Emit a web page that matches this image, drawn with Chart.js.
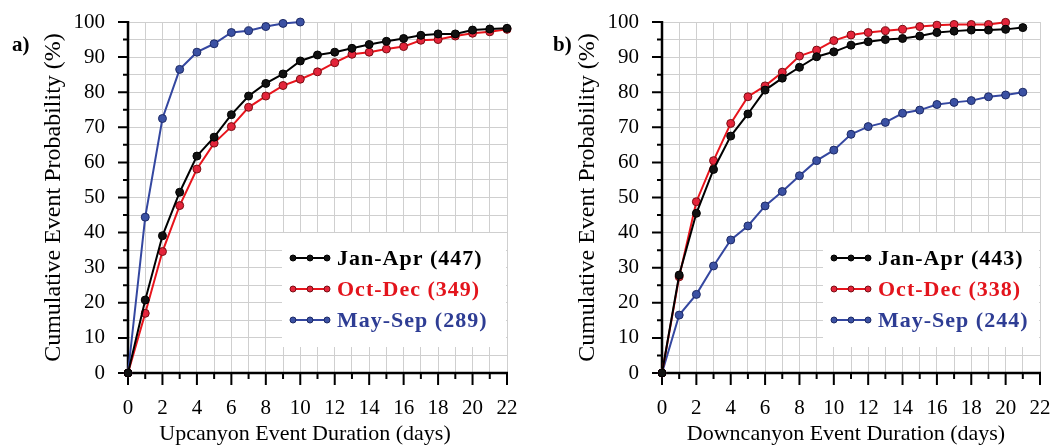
<!doctype html>
<html>
<head>
<meta charset="UTF-8">
<script src="https://cdn.jsdelivr.net/npm/chart.js"></script>
<style>
  body { margin: 0; background: #fff; }
  .panel { position: absolute; top: 0; width: 526px; height: 446px; }
</style>
</head>
<body>
<div class="panel" style="left:0"><canvas id="chartA" width="526" height="446"></canvas></div>
<div class="panel" style="left:526px"><canvas id="chartB" width="526" height="446"></canvas></div>

<script>
  // ---- data ----
  const seasons = ['Jan-Apr', 'Oct-Dec', 'May-Sep'];

  // a) upcanyon
  const daysA = [0,1,2,3,4,5,6,7,8,9,10,11,12,13,14,15,16,17,18,19,20,21,22];
  const upJanApr = [0, 20.8, 39.1, 51.5, 61.8, 67.2, 73.6, 78.9, 82.5, 85.2, 88.9, 90.6, 91.4, 92.5, 93.6, 94.5, 95.3, 96.2, 96.6, 96.6, 97.7, 98.0, 98.2];
  const upOctDec = [0, 17.0, 34.6, 47.7, 58.1, 65.5, 70.2, 75.7, 78.9, 81.9, 83.7, 85.8, 88.4, 90.8, 91.4, 92.3, 93.0, 94.8, 95.0, 96.0, 96.8, 97.2, 97.9];
  const upMaySep = [0, 44.4, 72.5, 86.5, 91.4, 93.8, 97.0, 97.5, 98.7, 99.6, 100];
  const countsA = [447, 349, 289];

  // b) downcanyon
  const daysB = [0,1,2,3,4,5,6,7,8,9,10,11,12,13,14,15,16,17,18,19,20,21];
  const downJanApr = [0, 27.9, 45.5, 58.0, 67.5, 73.8, 80.6, 84.0, 87.1, 90.1, 91.5, 93.4, 94.4, 95.0, 95.3, 96.0, 97.0, 97.4, 97.7, 97.7, 97.9, 98.4];
  const downOctDec = [0, 27.4, 48.8, 60.5, 71.1, 78.7, 81.8, 85.7, 90.3, 92.0, 94.7, 96.3, 97.0, 97.5, 97.9, 98.7, 99.1, 99.3, 99.3, 99.3, 99.9];
  const downMaySep = [0, 16.5, 22.4, 30.5, 37.9, 41.9, 47.6, 51.7, 56.2, 60.5, 63.5, 68.0, 70.2, 71.4, 74.0, 74.9, 76.5, 77.1, 77.6, 78.7, 79.2, 80.0];
  const countsB = [443, 338, 244];

  const xTicksMax = 22;
  const yTicksMax = 100;

  // ---- styling ----
  const SERIF = "'Liberation Serif', 'Times New Roman', serif";
  const styles = [
    { line: '#000000', fill: '#111111', edge: '#000000', text: '#000000' },
    { line: '#e8141c', fill: '#e3243a', edge: '#7a0d12', text: '#e3141c' },
    { line: '#3447a0', fill: '#3b51a3', edge: '#1d2a66', text: '#2e3d94' }
  ];

  function toPoints(xs, ys) {
    return ys.map((v, i) => ({ x: xs[i], y: v }));
  }

  // black axes with major/minor tick marks, panel letter, x title, legend box
  const axesPlugin = {
    id: 'axesPlugin',
    beforeDatasetsDraw(chart) {
      const { ctx, chartArea, scales } = chart;
      const x = scales.x, y = scales.y;
      const x0 = chartArea.left, y0 = chartArea.bottom;
      ctx.save();
      ctx.strokeStyle = '#000';
      ctx.lineWidth = 2.5;
      ctx.beginPath();
      ctx.moveTo(x0, chartArea.top - 1);
      ctx.lineTo(x0, y0);
      ctx.lineTo(chartArea.right + 1, y0);
      ctx.stroke();
      ctx.lineWidth = 2;
      ctx.beginPath();
      for (let v = 0; v <= yTicksMax; v += 5) {
        const py = y.getPixelForValue(v);
        ctx.moveTo(x0 - (v % 10 === 0 ? 10 : 5), py);
        ctx.lineTo(x0, py);
      }
      for (let d = 0; d <= xTicksMax; d += 1) {
        const px = x.getPixelForValue(d);
        ctx.moveTo(px, y0);
        ctx.lineTo(px, y0 + (d % 2 === 0 ? 12 : 6));
      }
      ctx.stroke();
      ctx.restore();
    },
    afterDatasetsDraw(chart, args, opts) {
      const { ctx, chartArea } = chart;
      ctx.save();
      // panel letter
      ctx.fillStyle = '#000';
      ctx.font = 'bold 21px ' + SERIF;
      ctx.textBaseline = 'middle';
      ctx.textAlign = 'left';
      ctx.fillText(opts.letter, opts.letterX, 46);
      // x axis title
      ctx.font = '22px ' + SERIF;
      ctx.textAlign = 'center';
      ctx.fillText(opts.xTitle, opts.xTitleX, 434);
      ctx.textAlign = 'left';
      // legend box
      const bx = opts.boxLeft, by = 233, bw = chartArea.right - 1 - bx, bh = 114;
      ctx.fillStyle = '#fff';
      ctx.fillRect(bx, by, bw, bh);
      chart.data.datasets.forEach((ds, i) => {
        const cy = 258 + i * 31;
        const st = styles[i];
        ctx.strokeStyle = st.line;
        ctx.lineWidth = 2;
        ctx.beginPath();
        ctx.moveTo(bx + 11, cy);
        ctx.lineTo(bx + 45, cy);
        ctx.stroke();
        [11, 28, 45].forEach(dx => {
          ctx.beginPath();
          ctx.arc(bx + dx, cy, 3, 0, Math.PI * 2);
          ctx.fillStyle = st.fill;
          ctx.fill();
          ctx.lineWidth = 1;
          ctx.strokeStyle = st.edge;
          ctx.stroke();
        });
        ctx.fillStyle = st.text;
        ctx.font = 'bold 22px ' + SERIF;
        ctx.letterSpacing = '1px';
        ctx.fillText(ds.label, bx + 55, cy + 1);
        ctx.letterSpacing = '0px';
      });
      ctx.restore();
    }
  };

  function makePanel(canvasId, series, counts, xTitle, xTitleX, axisLeft, padRight, letter, letterX, boxLeft) {
    const datasets = series.map((s, i) => ({
      label: seasons[i] + ' (' + counts[i] + ')',
      data: toPoints(s.x, s.y),
      borderColor: styles[i].line,
      borderWidth: 2,
      pointRadius: 4,
      pointBorderWidth: 1,
      pointBackgroundColor: styles[i].fill,
      pointBorderColor: styles[i].edge,
      tension: 0,
      clip: false
    }));
    return new Chart(document.getElementById(canvasId), {
      type: 'line',
      data: { datasets },
      options: {
        responsive: false,
        animation: false,
        layout: { padding: { left: 0, top: 22, right: padRight, bottom: 0 } },
        plugins: {
          legend: { display: false },
          tooltip: { enabled: false },
          axesPlugin: { letter, letterX, boxLeft, xTitle, xTitleX }
        },
        scales: {
          x: {
            type: 'linear',
            min: 0, max: xTicksMax,
            grid: { color: '#cfcfcf', lineWidth: 1, drawTicks: true, tickLength: 22, tickColor: 'rgba(0,0,0,0)' },
            border: { display: false },
            ticks: {
              stepSize: 1, autoSkip: false, maxRotation: 0, padding: 1,
              color: '#000', font: { family: SERIF, size: 21 },
              callback: v => (v % 2 === 0 ? v : '')
            },
            title: { display: false },
            afterFit: s => { s.height = 73; }
          },
          y: {
            min: 0, max: yTicksMax,
            grid: { color: '#cfcfcf', lineWidth: 1, drawTicks: true, tickLength: 20, tickColor: 'rgba(0,0,0,0)' },
            border: { display: false },
            ticks: {
              stepSize: 5, autoSkip: false, padding: 3,
              color: '#000', font: { family: SERIF, size: 21 },
              callback: v => (v % 10 === 0 ? v : '')
            },
            title: {
              display: true, text: 'Cumulative Event Probability (%)', color: '#000',
              font: { family: SERIF, size: 24, lineHeight: 1.2 },
              padding: { top: axisLeft - 75 - 14 }
            },
            afterFit: s => { s.width = axisLeft; }
          }
        }
      },
      plugins: [axesPlugin]
    });
  }

  makePanel('chartA', [
    { x: daysA, y: upJanApr },
    { x: daysA, y: upOctDec },
    { x: daysA, y: upMaySep }
  ], countsA, 'Upcanyon Event Duration (days)', 305, 128, 19, 'a)', 12, 282);

  makePanel('chartB', [
    { x: daysB, y: downJanApr },
    { x: daysB, y: downOctDec },
    { x: daysB, y: downMaySep }
  ], countsB, 'Downcanyon Event Duration (days)', 320, 136, 12, 'b)', 27, 297);
</script>
</body>
</html>
